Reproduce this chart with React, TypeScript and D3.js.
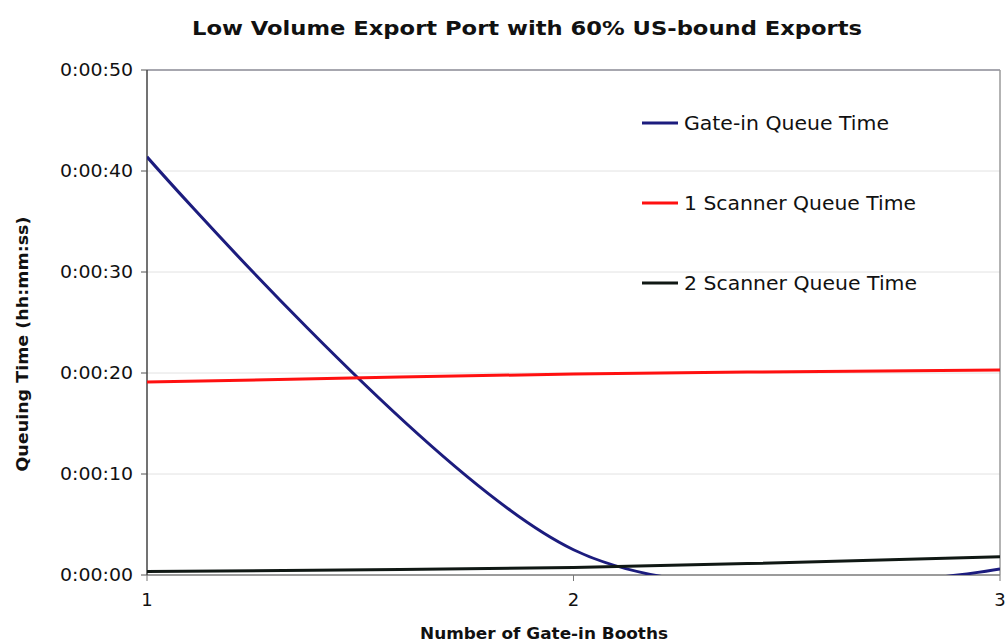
import React from "react";
import * as d3 from "d3";

const booths = [1, 2, 3];
const gateInQueue = [41.4, 2.5, 0.6];
const scanner1Queue = [19.1, 19.9, 20.3];
const scanner2Queue = [0.35, 0.75, 1.8];
const yTickValues = [0, 10, 20, 30, 40, 50];
const yTickLabels = ["0:00:00", "0:00:10", "0:00:20", "0:00:30", "0:00:40", "0:00:50"];
const xTickLabels = ["1", "2", "3"];

const seriesNames = ["Gate-in Queue Time", "1 Scanner Queue Time", "2 Scanner Queue Time"];
const seriesColors = ["#1c1c7e", "#ff1010", "#101814"];
const seriesValues = [gateInQueue, scanner1Queue, scanner2Queue];

const W = 1006;
const H = 643;
const L = 147;
const R = 1000;
const T = 70;
const B = 575;
const FONT = "'DejaVu Sans', Verdana, sans-serif";

export default function App() {
  const x = d3.scaleLinear().domain([1, 3]).range([L, R]);
  const y = d3.scaleLinear().domain([0, 50]).range([B, T]);
  const line = d3
    .line<number>()
    .x((_, i) => x(booths[i]))
    .y((d) => y(d))
    .curve(d3.curveCardinal.tension(0));

  const legendY = [123, 203, 283];
  const legendW = [205, 232, 233];

  return (
    <svg
      width={W}
      height={H}
      style={{ position: "absolute", left: 0, top: 0, display: "block", background: "#fff" }}
    >
      <defs>
        <clipPath id="plotClip">
          <rect x={L} y={T} width={R - L} height={B - T} />
        </clipPath>
      </defs>
      <rect x={0} y={0} width={W} height={H} fill="#ffffff" />
      {/* title */}
      <text
        x={527}
        y={35}
        textAnchor="middle"
        fontFamily={FONT}
        fontWeight="bold"
        fontSize={20}
        textLength={670}
        lengthAdjust="spacingAndGlyphs"
        fill="#111"
      >
        Low Volume Export Port with 60% US-bound Exports
      </text>
      {/* gridlines */}
      {yTickValues
        .filter((v) => v > 0 && v < 50)
        .map((v) => (
          <line key={"g" + v} x1={L} x2={R} y1={y(v)} y2={y(v)} stroke="#e2e2e2" strokeWidth={1} />
        ))}
      {/* plot border top/right */}
      <line x1={L} x2={R} y1={T} y2={T} stroke="#8a8a94" strokeWidth={1.5} />
      <line x1={R} x2={R} y1={T} y2={B} stroke="#9a9a9a" strokeWidth={1.5} />
      {/* axes */}
      <line x1={L} x2={R} y1={B} y2={B} stroke="#7a7a7a" strokeWidth={1.5} />
      <line x1={L} x2={L} y1={T} y2={B} stroke="#444" strokeWidth={1.5} />
      {yTickValues.map((v, i) => (
        <g key={"yt" + v}>
          <line x1={L - 6} x2={L} y1={y(v)} y2={y(v)} stroke="#555" strokeWidth={1} />
          <text
            x={133}
            y={y(v) + 6}
            textAnchor="end"
            fontFamily={FONT}
            fontSize={18}
            textLength={73}
            lengthAdjust="spacingAndGlyphs"
            fill="#111"
          >
            {yTickLabels[i]}
          </text>
        </g>
      ))}
      {booths.map((b, i) => (
        <g key={"xt" + b}>
          <line x1={x(b)} x2={x(b)} y1={B} y2={B + 6} stroke="#777" strokeWidth={1} />
          <text
            x={x(b)}
            y={606}
            textAnchor="middle"
            fontFamily={FONT}
            fontSize={18}
            fill="#111"
          >
            {xTickLabels[i]}
          </text>
        </g>
      ))}
      {/* axis titles */}
      <text
        x={544}
        y={639}
        textAnchor="middle"
        fontFamily={FONT}
        fontWeight="bold"
        fontSize={15}
        textLength={248}
        lengthAdjust="spacingAndGlyphs"
        fill="#111"
      >
        Number of Gate-in Booths
      </text>
      <text
        transform="translate(28,344) rotate(-90)"
        textAnchor="middle"
        fontFamily={FONT}
        fontWeight="bold"
        fontSize={15}
        textLength={255}
        lengthAdjust="spacingAndGlyphs"
        fill="#111"
      >
        Queuing Time (hh:mm:ss)
      </text>
      {/* series */}
      <g clipPath="url(#plotClip)">
        {seriesValues.map((vals, i) => (
          <path
            key={"s" + i}
            d={line(vals) || ""}
            fill="none"
            stroke={seriesColors[i]}
            strokeWidth={3}
            strokeLinejoin="round"
          />
        ))}
      </g>
      {/* legend */}
      {seriesNames.map((name, i) => (
        <g key={"l" + i}>
          <line
            x1={642}
            x2={678}
            y1={legendY[i]}
            y2={legendY[i]}
            stroke={seriesColors[i]}
            strokeWidth={3}
          />
          <text
            x={684}
            y={legendY[i] + 7}
            fontFamily={FONT}
            fontSize={19}
            textLength={legendW[i]}
            lengthAdjust="spacingAndGlyphs"
            fill="#111"
          >
            {name}
          </text>
        </g>
      ))}
    </svg>
  );
}
